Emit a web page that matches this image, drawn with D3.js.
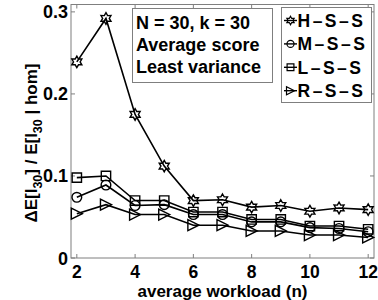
<!DOCTYPE html>
<html>
<head>
<meta charset="utf-8">
<script src="https://cdn.jsdelivr.net/npm/d3@7"></script>
<style>
  body { margin: 0; background: #fff; }
  svg { display: block; font-family: "Liberation Sans", Arial, sans-serif; font-weight: bold; }
</style>
</head>
<body>
<div id="main"></div>
<script>
// workload values on the x axis
let workload = [2, 3, 4, 5, 6, 7, 8, 9, 10, 11, 12];

// relative change per scheme
let hss = [0.239, 0.292, 0.175, 0.112, 0.070, 0.071, 0.062, 0.064, 0.057, 0.061, 0.059];
let mss = [0.074, 0.089, 0.064, 0.065, 0.053, 0.053, 0.044, 0.044, 0.037, 0.036, 0.032];
let lss = [0.098, 0.100, 0.070, 0.070, 0.056, 0.056, 0.047, 0.047, 0.039, 0.039, 0.035];
let rss = [0.054, 0.065, 0.053, 0.053, 0.040, 0.040, 0.033, 0.033, 0.028, 0.028, 0.025];

let seriesNames = ['H\u2013S\u2013S', 'M\u2013S\u2013S', 'L\u2013S\u2013S', 'R\u2013S\u2013S'];
let markerKinds = ['hexagram', 'circle', 'square', 'triangle'];
let xTicks = [2, 4, 6, 8, 10, 12];
let yTicks = [0, 0.1, 0.2, 0.3];
let infoLines = ['N = 30, k = 30', 'Average score', 'Least variance'];

let [width, height] = [378, 300];
let margin = {left: 71, right: 4, top: 4.5, bottom: 42};

let svg = d3.select('#main')
  .append('svg')
  .attr('width', width)
  .attr('height', height);

let sx = d3.scaleLinear().domain([1.8, 12.2]).range([margin.left, width - margin.right]);
let sy = d3.scaleLinear().domain([0, 0.309]).range([height - margin.bottom, margin.top]);

let axisColor = '#7f7f7f';
let [x0, x1] = sx.range();
let [y0, y1] = sy.range();

// ticks (inside, on all four sides)
let tickLen = 4;
let axes = svg.append('g').attr('stroke', axisColor).attr('stroke-width', 1);
for(let t of xTicks){
  axes.append('line').attr('x1', sx(t)).attr('x2', sx(t)).attr('y1', y0).attr('y2', y0 - tickLen);
  axes.append('line').attr('x1', sx(t)).attr('x2', sx(t)).attr('y1', y1).attr('y2', y1 + tickLen);
}
for(let t of yTicks){
  axes.append('line').attr('x1', x0).attr('x2', x0 + tickLen).attr('y1', sy(t)).attr('y2', sy(t));
  axes.append('line').attr('x1', x1).attr('x2', x1 - tickLen).attr('y1', sy(t)).attr('y2', sy(t));
}
axes.append('rect')
  .attr('x', x0).attr('y', y1)
  .attr('width', x1 - x0).attr('height', y0 - y1)
  .attr('fill', 'none');

// tick labels
svg.append('g')
  .selectAll('text')
  .data(xTicks)
  .join('text')
  .attr('x', d=>sx(d))
  .attr('y', y0 + 19.5)
  .attr('text-anchor', 'middle')
  .style('font-size', '17.5px')
  .text(d=>d);

svg.append('g')
  .selectAll('text')
  .data(yTicks)
  .join('text')
  .attr('x', x0 - 3)
  .attr('y', d=>sy(d) + 6.5)
  .attr('text-anchor', 'end')
  .style('font-size', '18px')
  .text(d=>d === 0 ? '0' : d3.format('.1f')(d));

// axis labels
svg.append('text')
  .attr('x', (x0 + x1) / 2)
  .attr('y', 296.5)
  .attr('text-anchor', 'middle')
  .style('font-size', '17px')
  .text('average workload (n)');

let ylab = svg.append('text')
  .attr('transform', `translate(37,143) rotate(-90)`)
  .attr('text-anchor', 'middle')
  .style('font-size', '17px');
ylab.append('tspan').text('\u0394E[I');
ylab.append('tspan').attr('dy', 5).style('font-size', '12.5px').text('30');
ylab.append('tspan').attr('dy', -5).text('] / E[I');
ylab.append('tspan').attr('dy', 5).style('font-size', '12.5px').text('30');
ylab.append('tspan').attr('dy', -5).text(' | hom]');

// marker shapes
function markerPath(kind, r){
  if(kind === 'circle'){
    let c = r * 0.88;
    return `M${c},0A${c},${c} 0 1,1 ${-c},0A${c},${c} 0 1,1 ${c},0Z`;
  }
  if(kind === 'square'){
    let s = r * 0.85;
    return `M${-s},${-s}H${s}V${s}H${-s}Z`;
  }
  if(kind === 'triangle'){
    return `M${r},0L${-r},${-r}L${-r},${r}Z`;
  }
  // hexagram: six-pointed star
  let pts = [];
  for(let i=0; i<12; i++){
    let a = -Math.PI / 2 + i * Math.PI / 6;
    let rr = i % 2 === 0 ? r * 1.05 : r * 0.6;
    pts.push([rr * Math.cos(a), rr * Math.sin(a)]);
  }
  return 'M' + pts.map(p=>p.join(',')).join('L') + 'Z';
}

let allSeries = [hss, mss, lss, rss];
let line = d3.line().x((d, i)=>sx(workload[i])).y(d=>sy(d));

let plot = svg.append('g');
allSeries.forEach((vals, k)=>{
  plot.append('path')
    .attr('d', line(vals))
    .attr('fill', 'none')
    .attr('stroke', '#000')
    .attr('stroke-width', 1.6);
  plot.append('g')
    .selectAll('path')
    .data(vals)
    .join('path')
    .attr('transform', (d, i)=>`translate(${sx(workload[i])},${sy(d)})`)
    .attr('d', markerPath(markerKinds[k], 5.5))
    .attr('fill', 'none')
    .attr('stroke', '#000')
    .attr('stroke-width', 1.4);
});

// info box
let info = svg.append('g');
info.append('rect')
  .attr('x', 132.5).attr('y', 8.5)
  .attr('width', 140).attr('height', 74)
  .attr('fill', '#fff').attr('stroke', axisColor);
info.selectAll('text')
  .data(infoLines)
  .join('text')
  .attr('x', 136)
  .attr('y', (d, i)=>28.5 + i * 22.3)
  .style('font-size', '18px')
  .text(d=>d);

// legend
let legend = svg.append('g');
legend.append('rect')
  .attr('x', 281.5).attr('y', 7.5)
  .attr('width', 90).attr('height', 95)
  .attr('fill', '#fff').attr('stroke', axisColor);
seriesNames.forEach((name, k)=>{
  let cy = 20.5 + k * 23.4;
  legend.append('line')
    .attr('x1', 284).attr('x2', 297)
    .attr('y1', cy).attr('y2', cy)
    .attr('stroke', '#000').attr('stroke-width', 1.4);
  legend.append('path')
    .attr('transform', `translate(290.5,${cy})`)
    .attr('d', markerPath(markerKinds[k], 4))
    .attr('fill', 'none')
    .attr('stroke', '#000')
    .attr('stroke-width', 1.2);
  legend.append('text')
    .attr('x', 297.5)
    .attr('y', cy + 6.3)
    .style('font-size', '17.5px')
    .style('letter-spacing', '2.5px')
    .text(name);
});
</script>
</body>
</html>
